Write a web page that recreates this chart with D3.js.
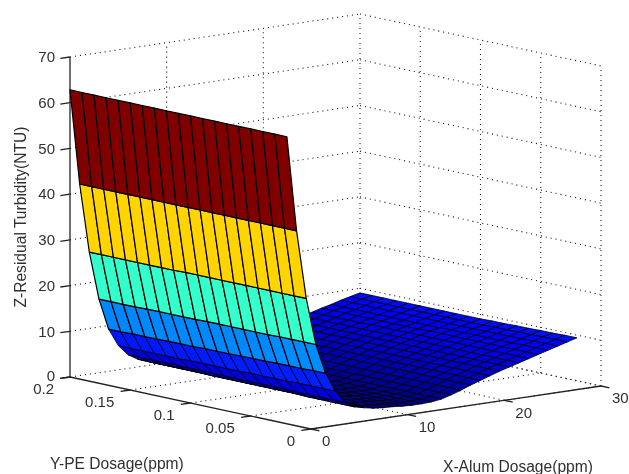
<!DOCTYPE html>
<html>
<head>
<meta charset="utf-8">
<script src="https://cdn.jsdelivr.net/npm/d3@7"></script>
<style>
  html, body { margin: 0; padding: 0; background: #fff; overflow: hidden; }
  svg { display: block; filter: blur(0.45px); }
  text { font-family: "Liberation Sans", Arial, sans-serif; fill: #303030; }
</style>
</head>
<body>
<div id="container"></div>
<script>
/* DATA */
const xTicks = [0, 10, 20, 30];
const yTicks = [0, 0.05, 0.1, 0.15, 0.2];
const yTickLabels = ["0", "0.05", "0.1", "0.15", "0.2"];
const zTicks = [0, 10, 20, 30, 40, 50, 60, 70];

const xValues = [0, 1, 2, 3, 4, 5, 6, 7, 8, 9, 10, 11, 12, 13, 14, 15, 16, 17, 18, 19, 20, 21, 22, 23, 24, 25, 26, 27, 28, 29, 30];
const yValues = [0.02, 0.03, 0.04, 0.05, 0.06, 0.07, 0.08, 0.09, 0.1, 0.11, 0.12, 0.13, 0.14, 0.15, 0.16, 0.17, 0.18, 0.19, 0.2];

// one row per x value, one column per y value
const zRows = [
  [62.8, 62.8, 62.8, 62.8, 62.8, 62.8, 62.8, 62.8, 62.8, 62.8, 62.8, 62.8, 62.8, 62.8, 62.8, 62.8, 62.8, 62.8, 62.8],
  [41.9, 41.9, 41.9, 41.9, 41.9, 41.9, 41.9, 41.9, 41.9, 41.9, 41.9, 41.9, 41.9, 41.9, 41.9, 41.9, 41.9, 41.9, 41.9],
  [26.8, 26.8, 26.8, 26.8, 26.8, 26.8, 26.8, 26.8, 26.8, 26.8, 26.8, 26.7, 26.7, 26.7, 26.7, 26.7, 26.7, 26.7, 26.7],
  [16.4, 16.4, 16.4, 16.4, 16.3, 16.3, 16.3, 16.3, 16.3, 16.3, 16.2, 16.2, 16.2, 16.2, 16.2, 16.1, 16.1, 16.1, 16.1],
  [9.8, 9.8, 9.7, 9.7, 9.7, 9.6, 9.6, 9.6, 9.5, 9.5, 9.5, 9.4, 9.4, 9.4, 9.3, 9.3, 9.3, 9.2, 9.2],
  [5.6, 5.6, 5.6, 5.6, 5.5, 5.5, 5.5, 5.5, 5.4, 5.4, 5.4, 5.4, 5.4, 5.3, 5.3, 5.3, 5.3, 5.3, 5.3],
  [2.8, 2.8, 2.8, 2.8, 2.8, 2.9, 2.9, 2.9, 2.9, 2.9, 2.9, 3.0, 3.0, 3.0, 3.0, 3.0, 3.0, 3.0, 3.0],
  [1.5, 1.5, 1.5, 1.5, 1.5, 1.6, 1.6, 1.6, 1.6, 1.6, 1.6, 1.6, 1.6, 1.7, 1.7, 1.7, 1.7, 1.7, 1.7],
  [1.0, 1.0, 1.0, 1.0, 0.9, 0.9, 0.9, 0.9, 0.9, 0.9, 0.9, 0.9, 0.9, 0.9, 0.9, 0.9, 0.9, 0.9, 0.9],
  [0.6, 0.6, 0.6, 0.6, 0.6, 0.6, 0.5, 0.5, 0.5, 0.5, 0.5, 0.5, 0.5, 0.5, 0.5, 0.5, 0.5, 0.5, 0.5],
  [0.4, 0.4, 0.4, 0.4, 0.4, 0.4, 0.4, 0.3, 0.3, 0.3, 0.3, 0.3, 0.3, 0.3, 0.3, 0.3, 0.3, 0.3, 0.3],
  [0.3, 0.3, 0.3, 0.3, 0.3, 0.2, 0.2, 0.2, 0.2, 0.2, 0.2, 0.2, 0.2, 0.2, 0.2, 0.2, 0.2, 0.2, 0.2],
  [0.1, 0.1, 0.1, 0.1, 0.1, 0.1, 0.1, 0.1, 0.1, 0.1, 0.1, 0.1, 0.1, 0.1, 0.1, 0.1, 0.1, 0.1, 0.1],
  [0, 0, 0, 0, 0, 0, 0, 0, 0, 0, 0, 0, 0, 0, 0, 0, 0, 0, 0],
  [0, 0, 0, 0, 0, 0, 0, 0, 0, 0, 0, 0, 0, 0, 0, 0, 0, 0, 0],
  [0.1, 0.1, 0.1, 0.1, 0.1, 0.1, 0.1, 0.1, 0.1, 0.1, 0.1, 0.1, 0.1, 0.1, 0.1, 0.1, 0.1, 0.1, 0.1],
  [0.4, 0.4, 0.4, 0.4, 0.4, 0.4, 0.4, 0.4, 0.4, 0.4, 0.4, 0.4, 0.4, 0.4, 0.4, 0.4, 0.4, 0.4, 0.4],
  [1.0, 1.0, 1.0, 1.0, 1.0, 1.0, 1.0, 1.0, 1.0, 1.0, 1.0, 1.0, 1.0, 1.0, 1.0, 1.0, 1.0, 1.0, 1.0],
  [1.7, 1.7, 1.7, 1.7, 1.7, 1.7, 1.7, 1.7, 1.7, 1.7, 1.7, 1.7, 1.7, 1.7, 1.7, 1.7, 1.7, 1.7, 1.7],
  [2.5, 2.5, 2.5, 2.5, 2.5, 2.5, 2.5, 2.5, 2.5, 2.5, 2.5, 2.5, 2.5, 2.5, 2.5, 2.5, 2.5, 2.5, 2.5],
  [3.2, 3.2, 3.2, 3.2, 3.2, 3.2, 3.2, 3.2, 3.2, 3.2, 3.2, 3.2, 3.2, 3.2, 3.2, 3.2, 3.2, 3.2, 3.2],
  [3.9, 3.9, 3.9, 3.9, 3.9, 3.9, 3.9, 3.9, 3.9, 3.9, 3.9, 3.9, 3.9, 3.9, 3.9, 3.9, 3.9, 3.9, 3.9],
  [4.6, 4.6, 4.6, 4.6, 4.6, 4.6, 4.6, 4.6, 4.6, 4.6, 4.6, 4.6, 4.6, 4.6, 4.6, 4.6, 4.6, 4.6, 4.6],
  [5.2, 5.2, 5.2, 5.2, 5.2, 5.2, 5.2, 5.2, 5.2, 5.2, 5.2, 5.2, 5.2, 5.2, 5.2, 5.2, 5.2, 5.2, 5.2],
  [5.8, 5.8, 5.8, 5.8, 5.8, 5.8, 5.8, 5.8, 5.8, 5.8, 5.8, 5.8, 5.8, 5.8, 5.8, 5.8, 5.8, 5.8, 5.8],
  [6.4, 6.4, 6.4, 6.4, 6.4, 6.4, 6.4, 6.4, 6.4, 6.4, 6.4, 6.4, 6.4, 6.4, 6.3, 6.3, 6.3, 6.3, 6.3],
  [7.0, 7.0, 7.0, 7.0, 7.0, 7.0, 7.0, 7.0, 7.0, 7.0, 6.9, 6.9, 6.9, 6.9, 6.9, 6.9, 6.9, 6.9, 6.9],
  [7.6, 7.6, 7.6, 7.5, 7.5, 7.5, 7.5, 7.5, 7.5, 7.4, 7.4, 7.4, 7.4, 7.4, 7.4, 7.4, 7.4, 7.4, 7.4],
  [8.2, 8.2, 8.2, 8.1, 8.1, 8.1, 8.0, 8.0, 8.0, 8.0, 8.0, 8.0, 8.0, 8.0, 8.0, 8.0, 8.0, 8.0, 8.0],
  [8.8, 8.8, 8.8, 8.7, 8.7, 8.6, 8.6, 8.5, 8.5, 8.5, 8.5, 8.5, 8.5, 8.5, 8.5, 8.5, 8.5, 8.5, 8.5],
  [9.4, 9.4, 9.3, 9.3, 9.2, 9.2, 9.1, 9.1, 9.0, 9.0, 9.0, 9.0, 9.0, 9.0, 9.0, 9.0, 9.0, 9.0, 9.0]
];

const jetStops = [0, 0.125, 0.375, 0.625, 0.875, 1];
const jetColors = ["rgb(0,0,143)", "rgb(0,0,255)", "rgb(0,255,255)", "rgb(255,255,0)", "rgb(255,0,0)", "rgb(128,0,0)"];

/* CONSTANTS */
const width = 629, height = 474;
const front = { x: 311, y: 429 };   // where x=0, y=0, z=0 lands on screen

// oblique view: each data axis adds its own screen offset
const xToPx = d3.scaleLinear().domain([0, 30]).range([0, 290]);
const xToPy = d3.scaleLinear().domain([0, 30]).range([0, -43]);
const yToPx = d3.scaleLinear().domain([0, 0.2]).range([0, -241]);
const yToPy = d3.scaleLinear().domain([0, 0.2]).range([0, -52]);
const zToPy = d3.scaleLinear().domain([0, 70]).range([0, -320]);

const project = (x, y, z) => [
  front.x + xToPx(x) + yToPx(y),
  front.y + xToPy(x) + yToPy(y) + zToPy(z)
];

const zMax = d3.max(zRows, row => d3.max(row));
const colorScale = d3.scaleLinear()
  .domain(jetStops.map(t => t * zMax))
  .range(jetColors);

const svg = d3.select("#container")
  .append("svg")
  .attr("width", width)
  .attr("height", height);

/* GRID */
const xMax = 30, yMax = 0.2, zTop = 70;
const gridLines = [];
zTicks.forEach(z => {
  gridLines.push([[0, yMax, z], [xMax, yMax, z]]);
  gridLines.push([[xMax, yMax, z], [xMax, 0, z]]);
});
xTicks.slice(1).forEach(x => {
  gridLines.push([[x, yMax, 0], [x, yMax, zTop]]);
  gridLines.push([[x, 0, 0], [x, yMax, 0]]);
});
yTicks.slice(0, -1).forEach(y => {
  gridLines.push([[xMax, y, 0], [xMax, y, zTop]]);
  gridLines.push([[0, y, 0], [xMax, y, 0]]);
});

const toLine = d => {
  const a = project(...d[0]), b = project(...d[1]);
  return `M${a[0]},${a[1]}L${b[0]},${b[1]}`;
};

svg.append("g").selectAll("path")
  .data(gridLines)
  .join("path")
  .attr("d", toLine)
  .attr("fill", "none")
  .attr("stroke", "#222")
  .attr("stroke-width", 1.1)
  .attr("stroke-dasharray", "1.1 3.9");

/* AXES */
const axisLines = [
  [[0, yMax, 0], [0, yMax, zTop]],
  [[0, 0, 0], [0, yMax, 0]],
  [[0, 0, 0], [xMax, 0, 0]]
];
zTicks.forEach(z => axisLines.push([[0, yMax, z], [-1, yMax, z]]));
yTicks.forEach(y => axisLines.push([[0, y, 0], [-1, y, 0]]));
xTicks.forEach(x => axisLines.push([[x, 0, 0], [x, -0.007, 0]]));

svg.append("g").selectAll("path")
  .data(axisLines)
  .join("path")
  .attr("d", toLine)
  .attr("fill", "none")
  .attr("stroke", "#222")
  .attr("stroke-width", 1.3);

/* SURFACE */
const cells = [];
// far corner first so the nearer cells paint over it
for (let i = xValues.length - 2; i >= 0; i--) {
  for (let j = yValues.length - 2; j >= 0; j--) {
    cells.push({
      z: zRows[i][j],
      corners: [
        project(xValues[i], yValues[j], zRows[i][j]),
        project(xValues[i + 1], yValues[j], zRows[i + 1][j]),
        project(xValues[i + 1], yValues[j + 1], zRows[i + 1][j + 1]),
        project(xValues[i], yValues[j + 1], zRows[i][j + 1])
      ]
    });
  }
}

svg.append("g").selectAll("path")
  .data(cells)
  .join("path")
  .attr("d", d => "M" + d.corners.join("L") + "Z")
  .attr("fill", d => colorScale(d.z))
  .attr("stroke", "#000")
  .attr("stroke-width", d => d.z < 12 ? 0.8 : 1.2)
  .attr("stroke-linejoin", "round");

/* TICK LABELS */
const tickFont = "15px";

svg.append("g").selectAll("text")
  .data(zTicks)
  .join("text")
  .attr("x", d => project(0, yMax, d)[0] - 15)
  .attr("y", d => project(0, yMax, d)[1] - (d === 0 ? 1.5 : 0))
  .attr("dy", "0.35em")
  .attr("text-anchor", "end")
  .style("font-size", tickFont)
  .text(d => d);

svg.append("g").selectAll("text")
  .data(yTicks)
  .join("text")
  .attr("x", d => project(0, d, 0)[0] - 16)
  .attr("y", d => project(0, d, 0)[1] + 12)
  .attr("dy", "0.35em")
  .attr("text-anchor", "end")
  .style("font-size", tickFont)
  .text((d, i) => yTickLabels[i]);

svg.append("g").selectAll("text")
  .data(xTicks)
  .join("text")
  .attr("x", d => project(d, 0, 0)[0] + 11)
  .attr("y", d => project(d, 0, 0)[1] + 12)
  .attr("dy", "0.35em")
  .style("font-size", tickFont)
  .text(d => d);

/* AXIS TITLES */
const titleFont = "15.6px";

svg.append("text")
  .attr("transform", "translate(21,217) rotate(-90)")
  .attr("dy", "0.35em")
  .attr("text-anchor", "middle")
  .style("font-size", titleFont)
  .text("Z-Residual Turbidity(NTU)");

svg.append("text")
  .attr("x", 50)
  .attr("y", 464)
  .attr("dy", "0.35em")
  .style("font-size", titleFont)
  .text("Y-PE Dosage(ppm)");

svg.append("text")
  .attr("x", 443)
  .attr("y", 467)
  .attr("dy", "0.35em")
  .style("font-size", titleFont)
  .text("X-Alum Dosage(ppm)");
</script>
</body>
</html>
